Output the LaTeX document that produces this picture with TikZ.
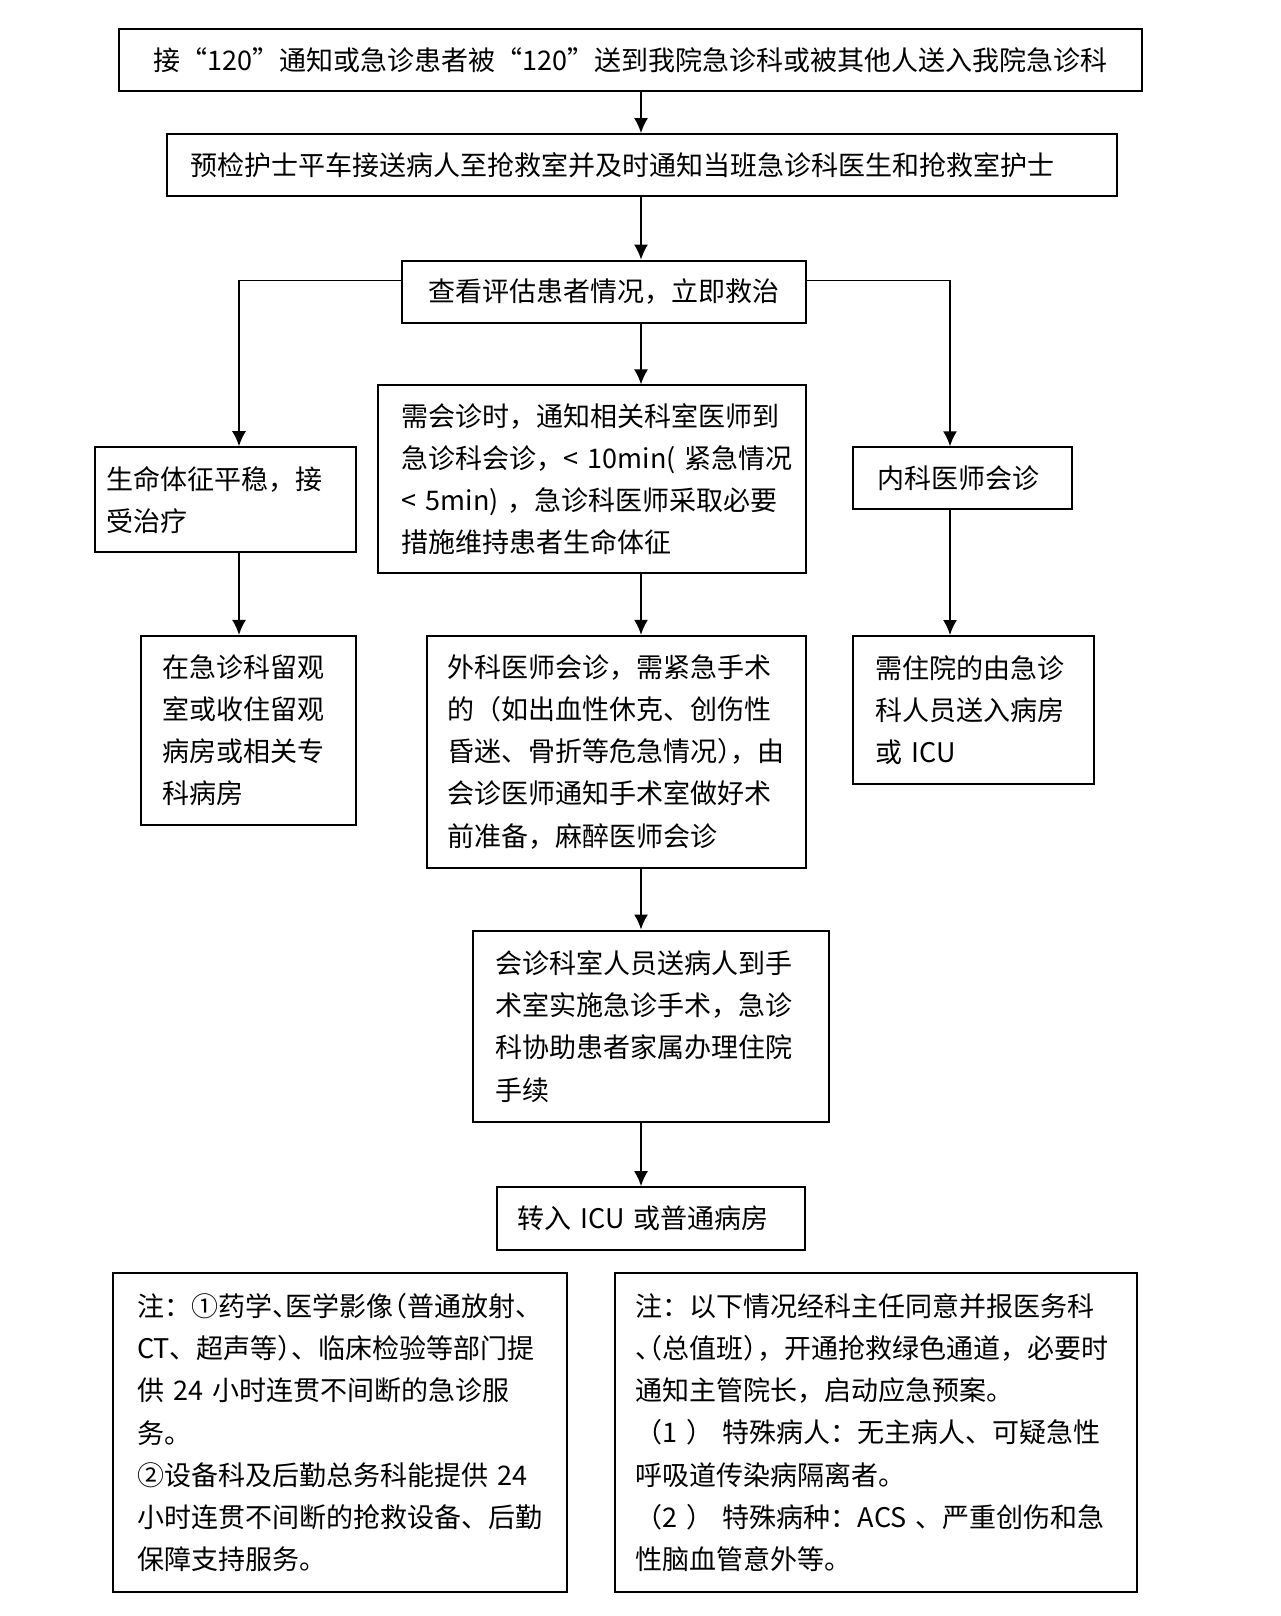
\documentclass[tikz,border=0pt]{standalone}
\usepackage{fontspec}
\setmainfont{Noto Sans CJK SC}
\usetikzlibrary{arrows.meta}
\tikzstyle{pbox}=[draw=black,line width=1pt,inner sep=0pt,align=left,font=\fontsize{13.5}{21.1}\selectfont]
\tikzstyle{pflow}=[-{Latex[length=7.5pt,width=7pt]},line width=0.8pt]
\newcommand\hpl[1]{\makebox[.5em][l]{#1}}
\newcommand\hpr[1]{\makebox[.5em][r]{#1}}

\begin{document}
\begin{tikzpicture}[x=1pt,y=-1pt]
\useasboundingbox (0,0) rectangle (640,808);
% main column
\node[pbox,minimum width=511.7pt,minimum height=30.9pt,align=center] (recv) at (315.1,29.9) {接“120”通知或急诊患者被“120”送到我院急诊科或被其他人送入我院急诊科};
\node[pbox,minimum width=475.1pt,minimum height=30.9pt,text width=451.3pt] (triage) at (321,82.5) {预检护士平车接送病人至抢救室并及时通知当班急诊科医生和抢救室护士};
\node[pbox,minimum width=202pt,minimum height=31pt,align=center] (assess) at (302,145.8) {查看评估患者情况，立即救治};
\node[pbox,minimum width=213.9pt,minimum height=93.8pt,text width=190.1pt] (consult) at (296,239.6) {需会诊时，通知相关科室医师到\\急诊科会诊，<~10min(~紧急情况\\<~5min)~，急诊科医师采取必要\\措施维持患者生命体征};
\node[pbox,minimum width=189.7pt,minimum height=116pt,text width=169.1pt] (surgery) at (308.2,375.9) {外科医师会诊，需紧急手术\\的（如出血性休克、创伤性\\昏迷、骨折等危急情况\hpl{）}，由\\会诊医师通知手术室做好术\\前准备，麻醉医师会诊};
\node[pbox,minimum width=177.8pt,minimum height=95.9pt,text width=155.2pt] (operate) at (325.4,513.2) {会诊科室人员送病人到手\\术室实施急诊手术，急诊\\科协助患者家属办理住院\\手续};
\node[pbox,minimum width=154.1pt,minimum height=31.5pt,text width=133.5pt] (transfer) at (325.4,609.3) {转入~ICU~或普通病房};
% side branches
\node[pbox,minimum width=130.4pt,minimum height=52.6pt,text width=119pt] (stable) at (112.6,249.9) {生命体征平稳，接\\受治疗};
\node[pbox,minimum width=107.2pt,minimum height=94.3pt,text width=85.6pt] (observe) at (124.2,365.1) {在急诊科留观\\室或收住留观\\病房或相关专\\科病房};
\node[pbox,minimum width=109.3pt,minimum height=30.9pt,text width=85.5pt] (medic) at (481.3,239.1) {内科医师会诊};
\node[pbox,minimum width=120.1pt,minimum height=74.2pt,text width=97.5pt] (admit) at (486.7,355.1) {需住院的由急诊\\科人员送入病房\\或~ICU};
% notes
\node[pbox,minimum width=226.7pt,minimum height=159.8pt,text width=202.9pt] (notea) at (170,716.3) {注：①药学\hpl{、}医学影像\hpr{（}普通放射、\\CT、超声等\hpl{）}、临床检验等部门提\\供~24~小时连贯不间断的急诊服\\务。\\②设备科及后勤总务科能提供~24\\小时连贯不间断的抢救设备、后勤\\保障支持服务。};
\node[pbox,minimum width=260.7pt,minimum height=159.8pt,text width=240.1pt] (noteb) at (438,716.3) {注：以下情况经科主任同意并报医务科\\\hpl{、}\hpr{（}总值班\hpl{）}，开通抢救绿色通道，必要时\\通知主管院长，启动应急预案。\\（1~）~特殊病人：无主病人、可疑急性\\呼吸道传染病隔离者。\\（2~）~特殊病种：ACS~、严重创伤和急\\性脑血管意外等。};
% connectors
\coordinate (axis) at (320.5,0);
\coordinate (lbr) at (119.5,140.2);
\coordinate (rbr) at (475,140.2);
\draw[pflow] (recv.south -| axis) -- (triage.north -| axis);
\draw[pflow] (triage.south -| axis) -- (assess.north -| axis);
\draw[pflow] (assess.south -| axis) -- (consult.north -| axis);
\draw[pflow] (consult.south -| axis) -- (surgery.north -| axis);
\draw[pflow] (surgery.south -| axis) -- (operate.north -| axis);
\draw[pflow] (operate.south -| axis) -- (transfer.north -| axis);
\draw[pflow] (assess.west |- lbr) -| (stable.north -| lbr);
\draw[pflow] (assess.east |- rbr) -| (medic.north -| rbr);
\draw[pflow] (stable.south -| lbr) -- (observe.north -| lbr);
\draw[pflow] (medic.south -| rbr) -- (admit.north -| rbr);
\end{tikzpicture}
\end{document}
